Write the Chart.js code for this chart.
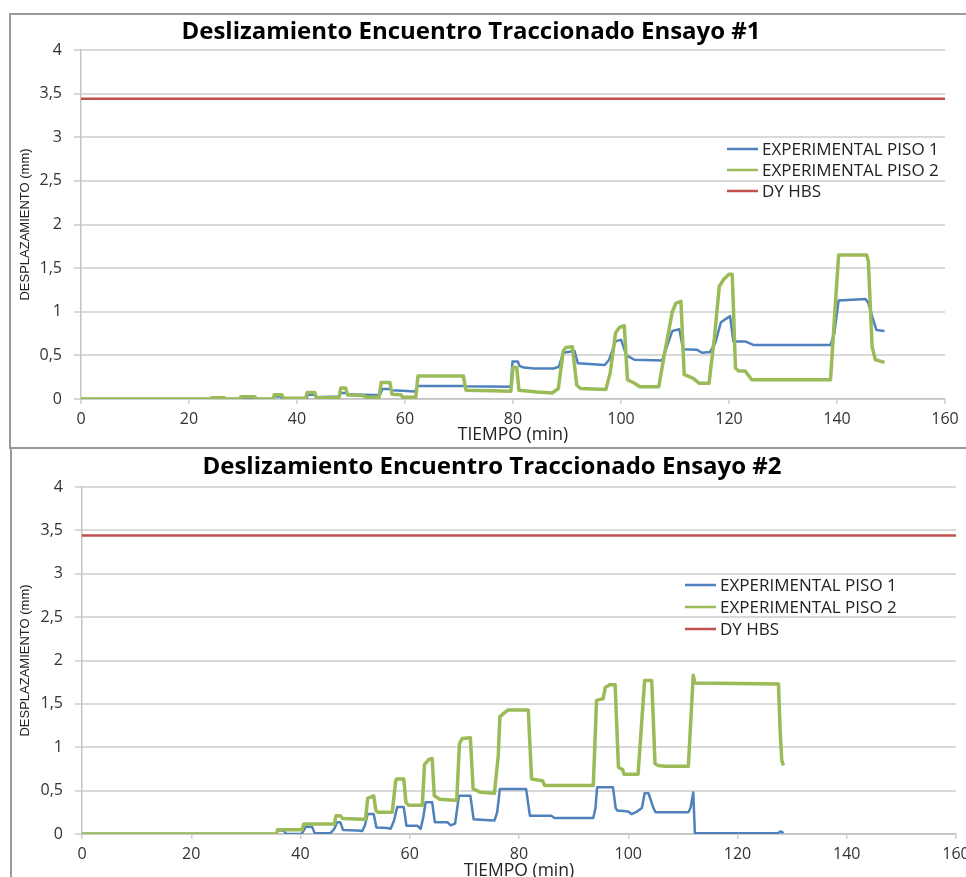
<!DOCTYPE html>
<html lang="es">
<head>
<meta charset="utf-8">
<title>Deslizamiento Encuentro Traccionado</title>
<script src="https://cdn.jsdelivr.net/npm/chart.js@4.4.1/dist/chart.umd.min.js"></script>
<style>
  html, body { margin: 0; padding: 0; background: #fff; overflow: hidden; width: 966px; height: 877px; }
  .marco { position: absolute; border: 2px solid #9a9a9a; box-sizing: border-box; }
  #marco1 { left: 9px; top: 13px; width: 1000px; height: 436px; }
  #marco2 { left: 10px; top: 447px; width: 1000px; height: 500px; }
  canvas { position: absolute; left: 0; }
  #grafico1 { top: 0; }
  #grafico2 { top: 448px; }
</style>
</head>
<body>
<div class="marco" id="marco1"></div>
<div class="marco" id="marco2"></div>
<canvas id="grafico1" width="980" height="447"></canvas>
<canvas id="grafico2" width="980" height="434"></canvas>
<script>
// Ensayo #1 - piso 1
const tiempoE1P1 = [0, 29.5, 29.6, 32, 32.2, 35.6, 35.8, 37, 37.3, 41.8, 42, 43.3, 43.5, 47.8, 48.1, 49, 49.3, 52, 54.5, 55.4,
  55.8, 57.2, 57.5, 59.5, 61.8, 62.4, 70.8, 71.2, 79.6, 79.9, 80.9, 81.2, 82, 84, 87.5, 88.5, 89.3, 91.4, 92, 97,
  97.8, 99, 100, 101, 102.5, 107.6, 108.5, 109.5, 110.8, 111.5, 114, 115, 116.5, 117.5, 118.5, 120.2, 120.8, 123, 124.5, 138.8,
  139.5, 140.3, 145.3, 145.8, 146.6, 147.3, 148.8];
const despE1P1 = [0, 0, 0.01, 0.01, 0, 0, 0.03, 0.03, 0.005, 0.01, 0.05, 0.05, 0.02, 0.03, 0.07, 0.07, 0.055, 0.05, 0.045, 0.05,
  0.115, 0.115, 0.1, 0.095, 0.085, 0.15, 0.15, 0.145, 0.14, 0.43, 0.43, 0.38, 0.36, 0.35, 0.35, 0.37, 0.53, 0.55, 0.41, 0.39,
  0.45, 0.66, 0.68, 0.5, 0.45, 0.44, 0.6, 0.78, 0.8, 0.57, 0.565, 0.53, 0.54, 0.65, 0.88, 0.95, 0.66, 0.66, 0.62, 0.62,
  0.75, 1.13, 1.145, 1.1, 0.93, 0.79, 0.78];

// Ensayo #1 - piso 2
const tiempoE1P2 = [0, 24, 24.2, 26.5, 26.8, 29.4, 29.6, 32.2, 32.5, 35.6, 35.8, 37.2, 37.5, 41.6, 41.9, 43.3, 43.6, 47.8, 48.1, 49,
  49.4, 52.2, 53, 55.2, 55.6, 57.2, 57.6, 59.2, 59.6, 62, 62.4, 70.8, 71.3, 76, 79.6, 80, 80.7, 81.1, 84.5, 87.3,
  88.4, 89.3, 89.8, 91, 91.8, 92.5, 97.2, 98, 99, 99.7, 100.6, 101.2, 102.5, 103.5, 107, 108, 109.5, 110.2, 111.1, 111.7,
  113.3, 114.5, 116.3, 117.3, 118.2, 119, 120, 120.6, 121.2, 121.8, 123, 124.2, 138.8, 139.5, 140.3, 145.5, 145.8, 146.5, 147.1, 148.8];
const despE1P2 = [0, 0, 0.015, 0.015, 0, 0, 0.025, 0.025, 0, 0, 0.05, 0.05, 0.01, 0.01, 0.075, 0.075, 0.015, 0.015, 0.125, 0.125,
  0.045, 0.04, 0.02, 0.02, 0.19, 0.19, 0.055, 0.05, 0.02, 0.02, 0.265, 0.265, 0.1, 0.095, 0.09, 0.36, 0.36, 0.1, 0.08, 0.07,
  0.12, 0.55, 0.59, 0.6, 0.16, 0.12, 0.11, 0.3, 0.76, 0.82, 0.84, 0.22, 0.18, 0.14, 0.14, 0.5, 1.0, 1.1, 1.12, 0.28,
  0.24, 0.18, 0.18, 0.7, 1.29, 1.37, 1.43, 1.43, 0.355, 0.32, 0.32, 0.22, 0.22, 0.9, 1.65, 1.65, 1.58, 0.6, 0.45, 0.42];

// Ensayo #2 - piso 1
const tiempoE2P1 = [0, 35.6, 35.8, 36.9, 37.4, 40.2, 41, 42.1, 42.6, 45.5, 46.2, 46.7, 47.3, 47.8, 50.4, 51.3, 51.8, 52.3, 53.4, 53.9,
  55.9, 56.5, 57.1, 57.7, 58.9, 59.4, 61.4, 62, 62.5, 62.9, 64.1, 64.6, 66.9, 67.5, 68.3, 69, 71.1, 71.7, 73, 75.5,
  76, 76.5, 81.3, 82, 85.9, 86.5, 93.6, 94, 94.3, 97.2, 97.7, 98, 100, 100.6, 101.5, 102.5, 103, 103.7, 104.6, 105,
  111, 111.4, 111.9, 112.2, 127.5, 127.8, 128.1, 128.4];
const despE2P1 = [0, 0, 0.04, 0.04, 0, 0, 0.085, 0.085, 0.01, 0.01, 0.06, 0.135, 0.135, 0.045, 0.04, 0.035, 0.1, 0.23, 0.23, 0.075,
  0.07, 0.06, 0.15, 0.31, 0.31, 0.095, 0.095, 0.06, 0.2, 0.365, 0.365, 0.135, 0.135, 0.1, 0.12, 0.44, 0.44, 0.17, 0.165, 0.155,
  0.25, 0.52, 0.52, 0.21, 0.21, 0.185, 0.185, 0.3, 0.54, 0.54, 0.3, 0.27, 0.26, 0.23, 0.255, 0.3, 0.47, 0.47, 0.3, 0.25,
  0.25, 0.3, 0.48, 0.01, 0.01, 0.03, 0.025, 0.01];

// Ensayo #2 - piso 2
const tiempoE2P2 = [0, 35.6, 35.8, 40.3, 40.6, 46.2, 46.5, 47.3, 47.7, 51.3, 51.9, 52.3, 53.4, 53.8, 54.2, 56.8, 57.4, 57.6, 58.9, 59.3,
  59.8, 62.3, 62.7, 63.5, 64.1, 64.5, 65.5, 68.1, 68.6, 69.1, 69.6, 71.1, 71.6, 73, 75.5, 76.2, 76.5, 77.2, 78, 81.7,
  82.3, 84.3, 84.7, 93.6, 94.2, 95.4, 95.8, 96.6, 97.6, 98.2, 99, 99.2, 101.8, 103, 104.3, 104.9, 105.5, 106.7, 111, 111.9,
  112.2, 127.5, 127.8, 128.1, 128.4];
const despE2P2 = [0, 0, 0.05, 0.05, 0.115, 0.115, 0.21, 0.21, 0.18, 0.17, 0.17, 0.41, 0.44, 0.27, 0.25, 0.25, 0.6, 0.635, 0.635, 0.365,
  0.33, 0.33, 0.8, 0.86, 0.87, 0.44, 0.4, 0.39, 0.39, 1.04, 1.1, 1.11, 0.52, 0.48, 0.47, 0.9, 1.35, 1.39, 1.43, 1.43,
  0.635, 0.615, 0.56, 0.56, 1.54, 1.56, 1.69, 1.72, 1.72, 0.77, 0.74, 0.69, 0.69, 1.77, 1.77, 0.81, 0.79, 0.78, 0.78, 1.83,
  1.74, 1.73, 1.2, 0.85, 0.79];

// limite DY HBS
const tiempoDY = [0, 160];
const despDY = [3.44, 3.44];

const etiquetas = ['EXPERIMENTAL PISO 1', 'EXPERIMENTAL PISO 2', 'DY HBS'];
const colores = ['#4F81BD', '#9BBB59', '#C0504D'];

Chart.defaults.font.family = '"Open Sans", sans-serif';
Chart.defaults.color = '#333';

function puntos(xs, ys) {
    return xs.map((x, i) => ({ x: x, y: ys[i] }));
}

const pluginTitulo = {
    id: 'tituloExcel',
    afterDraw(chart, args, opts) {
        const ctx = chart.ctx;
        ctx.save();
        ctx.font = 'bold 24px "Open Sans"';
        ctx.fillStyle = '#000';
        ctx.textAlign = 'center';
        ctx.textBaseline = 'alphabetic';
        ctx.fillText(opts.texto, opts.x, opts.y);
        ctx.restore();
    }
};

const pluginLeyenda = {
    id: 'leyendaExcel',
    afterDraw(chart, args, opts) {
        const ctx = chart.ctx, area = chart.chartArea;
        ctx.save();
        ctx.font = '17px "Open Sans"';
        ctx.textBaseline = 'middle';
        ctx.fillStyle = '#222';
        chart.data.datasets.forEach((ds, i) => {
            let x = area.left + opts.dx;
            let y = area.top + opts.dy + i * opts.paso;
            ctx.strokeStyle = ds.borderColor;
            ctx.lineWidth = 2.5;
            ctx.beginPath();
            ctx.moveTo(x, y);
            ctx.lineTo(x + 31, y);
            ctx.stroke();
            ctx.fillText(ds.label, x + 35, y + 1);
        });
        ctx.restore();
    }
};

function crearGrafico(id, p1, p2, c) {
    const ctx = document.getElementById(id).getContext('2d');
    return new Chart(ctx, {
        type: 'line',
        data: {
            datasets: [
                { label: etiquetas[0], data: p1, borderColor: colores[0], borderWidth: 2.5, order: 2 },
                { label: etiquetas[1], data: p2, borderColor: colores[1], borderWidth: 3.5, order: 1 },
                { label: etiquetas[2], data: puntos(tiempoDY, despDY), borderColor: colores[2], borderWidth: 2.5, order: 3 }
            ]
        },
        options: {
            responsive: false,
            animation: false,
            layout: { padding: { left: 0, right: c.derecha, top: c.arriba, bottom: 0 } },
            elements: { point: { radius: 0 }, line: { tension: 0, borderJoinStyle: 'round', fill: false } },
            scales: {
                x: {
                    type: 'linear', min: 0, max: 160,
                    afterFit: s => { s.height = 48; },
                    ticks: { stepSize: 20, padding: 6, color: '#333', font: { size: 16 } },
                    grid: { drawOnChartArea: false, tickLength: 5, color: '#cfcfcf', lineWidth: 1.5 },
                    border: { color: '#c4c4c4', width: 1.5 },
                    title: { display: true, text: 'TIEMPO (min)', color: '#222', font: { size: 17.5 }, padding: { top: 0, bottom: c.tituloX } }
                },
                y: {
                    min: 0, max: 4,
                    afterFit: s => { s.width = c.anchoY; },
                    ticks: { stepSize: 0.5, padding: 12, color: '#333', font: { size: 16 },
                        callback: v => String(v).replace('.', ',') },
                    grid: { color: '#d9d9d9', lineWidth: 2, tickLength: 7 },
                    border: { color: '#c4c4c4', width: 1.5 },
                    title: { display: true, text: 'DESPLAZAMIENTO (mm)', color: '#222',
                        font: { family: '"Liberation Sans"', size: 13 }, padding: { top: 18, bottom: 0 } }
                }
            },
            plugins: {
                legend: { display: false },
                title: { display: false },
                tooltip: { enabled: false },
                tituloExcel: { texto: c.titulo, x: c.tx, y: c.ty },
                leyendaExcel: { dx: c.ldx, dy: c.ldy, paso: c.lpaso }
            }
        },
        plugins: [pluginTitulo, pluginLeyenda]
    });
}

crearGrafico('grafico1', puntos(tiempoE1P1, despE1P1), puntos(tiempoE1P2, despE1P2), {
    titulo: 'Deslizamiento Encuentro Traccionado Ensayo #1', tx: 471, ty: 39,
    arriba: 50, derecha: 35, anchoY: 81, tituloX: 1.5,
    ldx: 646, ldy: 99, lpaso: 21
});

crearGrafico('grafico2', puntos(tiempoE2P1, despE2P1), puntos(tiempoE2P2, despE2P2), {
    titulo: 'Deslizamiento Encuentro Traccionado Ensayo #2', tx: 492, ty: 26,
    arriba: 39, derecha: 24, anchoY: 82, tituloX: 0,
    ldx: 603, ldy: 98, lpaso: 22
});
</script>
</body>
</html>
